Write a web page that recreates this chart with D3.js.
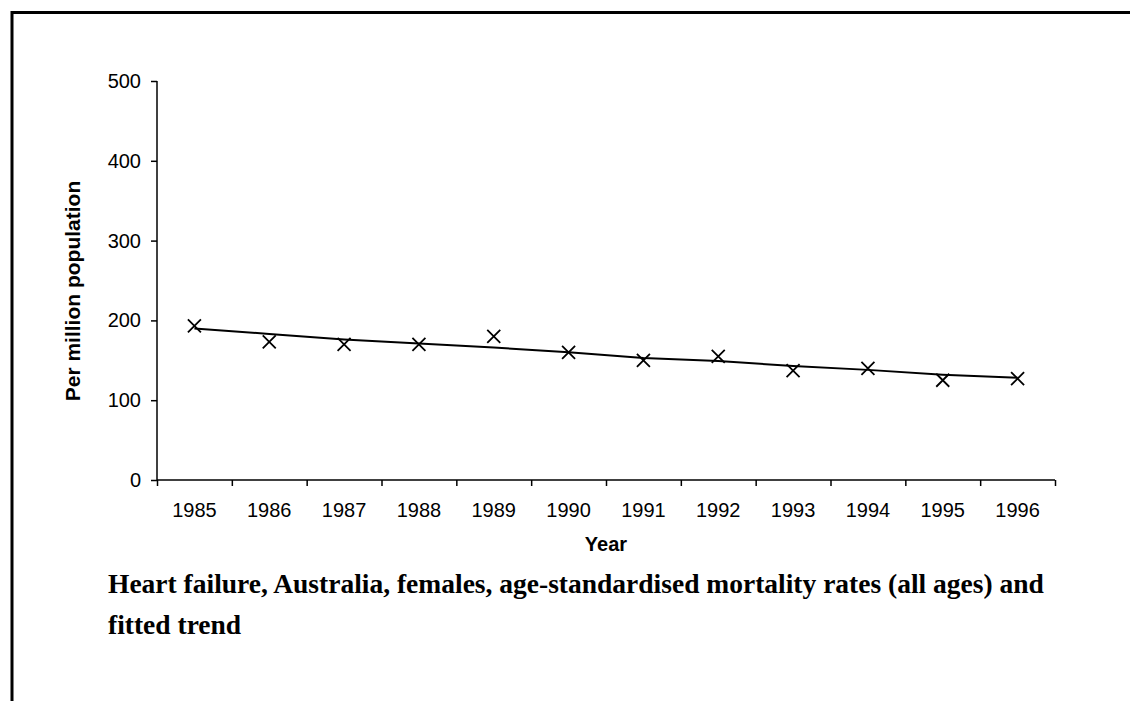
<!DOCTYPE html>
<html>
<head>
<meta charset="utf-8">
<script src="https://cdn.jsdelivr.net/npm/d3@7"></script>
<style>
  html, body { margin: 0; padding: 0; background: #fff; }
  svg { display: block; }
</style>
</head>
<body>
<svg id="chart" width="1130" height="701"></svg>
<script>
const years = ["1985","1986","1987","1988","1989","1990","1991","1992","1993","1994","1995","1996"];
const rates = [193, 173, 170, 170, 180, 160, 150, 155, 137, 140, 125, 127];
const trend = [190, 183, 176, 171, 166, 160, 153, 149, 143, 138, 132, 128];
const yTicks = [0, 100, 200, 300, 400, 500];
const yTitle = "Per million population";
const xTitle = "Year";
const captionLines = [
  "Heart failure, Australia, females, age-standardised mortality rates (all ages) and",
  "fitted trend"
];

(function () {
const svg = d3.select("#chart");
const pL = 157, pR = 1055, pT = 81, pB = 480;

// frame (top and left edges visible)
svg.append("rect")
  .attr("x", 12).attr("y", 12.5).attr("width", 1200).attr("height", 800)
  .attr("fill", "none").attr("stroke", "#000").attr("stroke-width", 3);

const x = d3.scaleBand().domain(years).range([pL, pR]).padding(0);
const xEdge = d3.scaleLinear().domain([0, years.length]).range([pL, pR]);
const y = d3.scaleLinear().domain([0, 500]).range([pB, pT]);

// Y axis
const gy = svg.append("g").attr("transform", `translate(${pL},0)`)
  .call(d3.axisLeft(y).tickValues(yTicks).tickSize(6).tickPadding(10));
gy.selectAll("path, line").attr("stroke", "#000").attr("stroke-width", 1.5);
gy.select(".domain").attr("d", `M0,${pT}V${pB}`);
gy.selectAll("text").attr("font-family", "'Liberation Sans', Arial, sans-serif")
  .attr("font-size", 20).attr("fill", "#000");

// X axis ticks at category boundaries
const gx = svg.append("g").attr("transform", `translate(0,${pB})`)
  .call(d3.axisBottom(xEdge).tickValues(d3.range(years.length + 1)).tickSize(6).tickFormat(""));
gx.selectAll("path, line").attr("stroke", "#000").attr("stroke-width", 1.5);
gx.select(".domain").attr("d", `M${pL},0H${pR}`);

// X labels at category centers
const gxl = svg.append("g").attr("transform", `translate(0,${pB})`)
  .call(d3.axisBottom(x).tickSize(0).tickPadding(23));
gxl.select(".domain").remove();
gxl.selectAll("text").attr("font-family", "'Liberation Sans', Arial, sans-serif")
  .attr("font-size", 20).attr("fill", "#000");

// Trend line
const line = d3.line().x((d, i) => x(years[i]) + x.bandwidth() / 2).y(d => y(d));
svg.append("path").datum(trend)
  .attr("d", line).attr("fill", "none").attr("stroke", "#000").attr("stroke-width", 2);

// Markers (x)
const s = 6.5;
svg.append("g").selectAll("path").data(rates).join("path")
  .attr("transform", (d, i) => `translate(${x(years[i]) + x.bandwidth() / 2},${y(d)})`)
  .attr("d", `M${-s},${-s}L${s},${s}M${-s},${s}L${s},${-s}`)
  .attr("stroke", "#000").attr("stroke-width", 1.8).attr("fill", "none");

// Axis titles
svg.append("text")
  .attr("transform", `translate(80,291) rotate(-90)`)
  .attr("text-anchor", "middle")
  .attr("font-family", "'Liberation Sans', Arial, sans-serif")
  .attr("font-weight", "bold").attr("font-size", 21).attr("fill", "#000")
  .text(yTitle);

svg.append("text")
  .attr("x", (pL + pR) / 2).attr("y", 551)
  .attr("text-anchor", "middle")
  .attr("font-family", "'Liberation Sans', Arial, sans-serif")
  .attr("font-weight", "bold").attr("font-size", 20).attr("fill", "#000")
  .text(xTitle);

// Caption
svg.append("g").selectAll("text").data(captionLines).join("text")
  .attr("x", 108).attr("y", (d, i) => 593 + i * 41)
  .attr("font-family", "'Liberation Serif', 'Times New Roman', serif")
  .attr("font-weight", "bold").attr("font-size", 27.5).attr("fill", "#000")
  .text(d => d);
})();
</script>
</body>
</html>
